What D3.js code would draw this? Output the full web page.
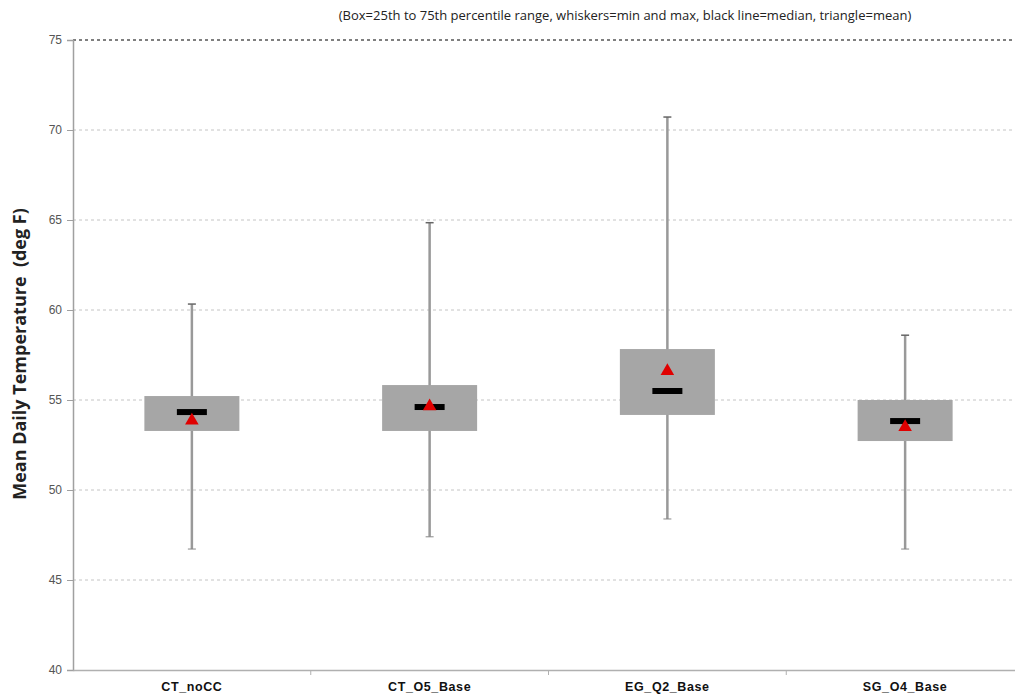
<!DOCTYPE html>
<html><head><meta charset="utf-8">
<script src="https://cdn.jsdelivr.net/npm/d3@7"></script>
<style>body{margin:0;background:#fff}</style>
</head><body>
<svg id="chart" width="1015" height="698"></svg>
<script>
const categories = ["CT_noCC", "CT_O5_Base", "EG_Q2_Base", "SG_O4_Base"];
const minVals = [46.72, 47.4, 48.39, 46.72];
const q1Vals = [53.28, 53.28, 54.17, 52.72];
const medianVals = [54.33, 54.61, 55.5, 53.83];
const meanVals = [53.85, 54.65, 56.6, 53.5];
const q3Vals = [55.22, 55.83, 57.83, 55.0];
const maxVals = [60.33, 64.85, 70.72, 58.6];
const yTicks = [40, 45, 50, 55, 60, 65, 70, 75];
const title = "(Box=25th to 75th percentile range, whiskers=min and max, black line=median, triangle=mean)";
const yLabel = "Mean Daily Temperature  (deg F)";

const data = categories.map((c, i) => ({cat: c, min: minVals[i], q1: q1Vals[i], med: medianVals[i], mean: meanVals[i], q3: q3Vals[i], max: maxVals[i]}));

const svg = d3.select("#chart");
const L = 73, R = 1024, T = 40, B = 670;
const x = d3.scaleBand().domain(categories).range([L, R]);
const y = d3.scaleLinear().domain([40, 75]).range([B, T]);

// gridlines
svg.append("g").selectAll("line").data(yTicks.filter(t => t > 40)).join("line")
  .attr("x1", L).attr("x2", R).attr("y1", d => y(d)).attr("y2", d => y(d))
  .attr("stroke", d => d === 75 ? "#555" : "#c4c4c4")
  .attr("stroke-width", d => d === 75 ? 1.5 : 1)
  .attr("stroke-dasharray", "3,3");

// y axis
const yAxis = svg.append("g").attr("transform", `translate(${L},0)`)
  .call(d3.axisLeft(y).tickValues(yTicks).tickSize(6).tickPadding(5));
yAxis.select(".domain").attr("stroke", "#a0a0a0").attr("stroke-width", 1.5);
yAxis.selectAll(".tick line").attr("stroke", "#a0a0a0");
yAxis.selectAll("text").attr("fill", "#555").style("font-family", "Liberation Sans, Arial, sans-serif").style("font-size", "12px");

// x axis
const xAxis = svg.append("g").attr("transform", `translate(0,${B})`)
  .call(d3.axisBottom(x).tickSize(0).tickPadding(12));
xAxis.select(".domain").attr("stroke", "#b0b0b0").attr("stroke-width", 1.5);
xAxis.selectAll("text").attr("fill", "#111").style("font-family", "Liberation Sans, Arial, sans-serif")
  .style("font-size", "12.5px").style("font-weight", "bold").style("letter-spacing", "0.6px");
// category boundary ticks
svg.append("g").selectAll("line").data(categories.slice(1)).join("line")
  .attr("x1", d => x(d)).attr("x2", d => x(d)).attr("y1", B).attr("y2", B + 5)
  .attr("stroke", "#b0b0b0");

const bw = 95;
const g = svg.append("g").selectAll("g").data(data).join("g")
  .attr("transform", d => `translate(${x(d.cat) + x.bandwidth() / 2},0)`);

// whiskers
g.append("line").attr("x1", 0).attr("x2", 0).attr("y1", d => y(d.max)).attr("y2", d => y(d.min))
  .attr("stroke", "#999").attr("stroke-width", 2.5);
g.append("line").attr("x1", -4).attr("x2", 4).attr("y1", d => y(d.max)).attr("y2", d => y(d.max))
  .attr("stroke", "#666").attr("stroke-width", 1.5);
g.append("line").attr("x1", -4).attr("x2", 4).attr("y1", d => y(d.min)).attr("y2", d => y(d.min))
  .attr("stroke", "#888").attr("stroke-width", 1);
// box
g.append("rect").attr("x", -bw / 2).attr("width", bw)
  .attr("y", d => y(d.q3)).attr("height", d => y(d.q1) - y(d.q3))
  .attr("fill", "#a6a6a6");
// median
g.append("rect").attr("x", -15).attr("width", 30)
  .attr("y", d => y(d.med) - 3).attr("height", 6).attr("fill", "#000");
// mean
g.append("path").attr("d", d3.symbol(d3.symbolTriangle, 80)())
  .attr("transform", d => `translate(0,${y(d.mean)})`)
  .attr("fill", "#e00000");

// title
svg.append("text").attr("x", 625).attr("y", 20).attr("text-anchor", "middle")
  .style("font-family", "Open Sans, Liberation Sans, sans-serif").style("font-size", "13px")
  .attr("fill", "#222").text(title);

// y label
svg.append("text").attr("transform", `translate(26,354) rotate(-90)`).attr("text-anchor", "middle")
  .style("font-family", "Open Sans, Liberation Sans, sans-serif").style("font-size", "18px").style("font-weight", "bold")
  .style("white-space", "pre")
  .attr("fill", "#222").text(yLabel);
</script>
</body></html>
